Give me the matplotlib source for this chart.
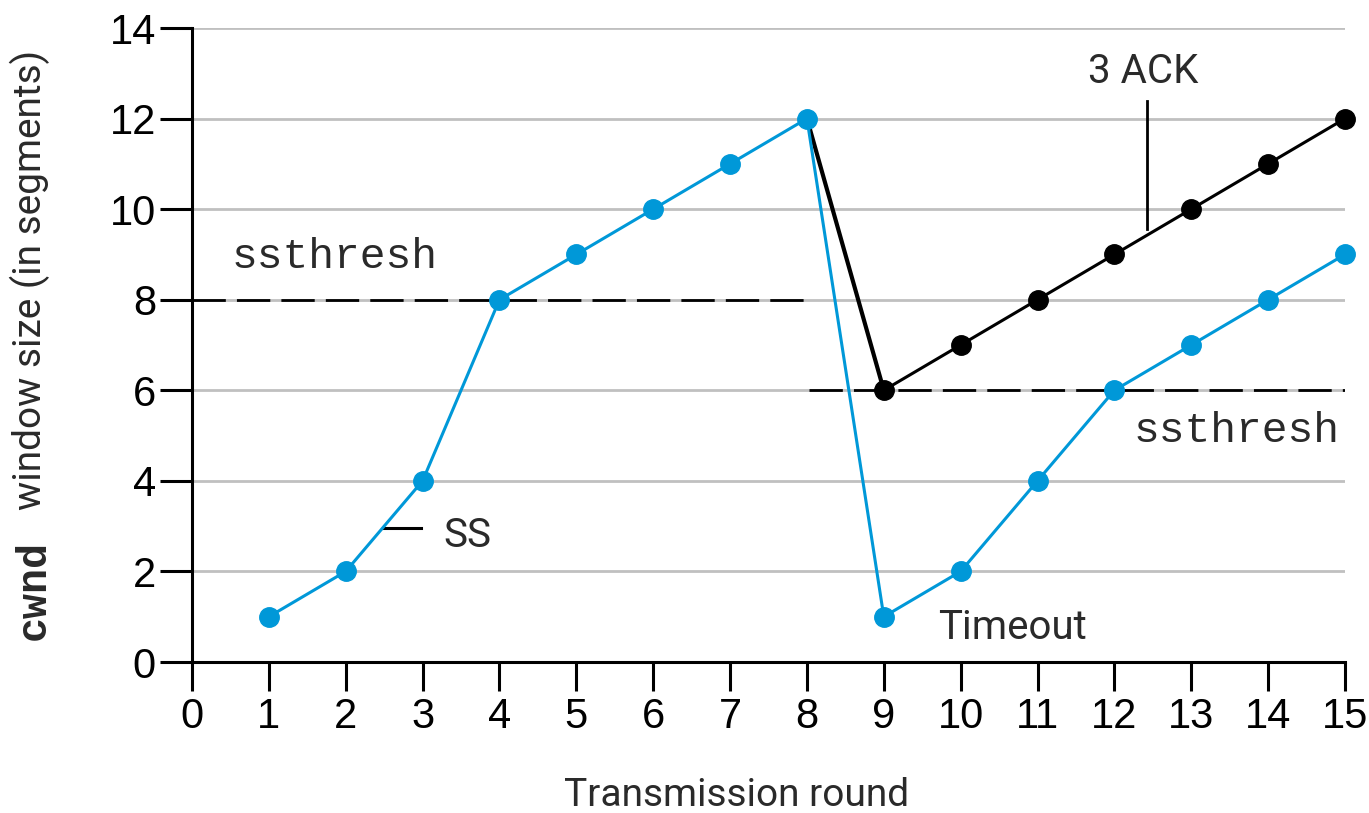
import matplotlib
matplotlib.use("Agg")
import matplotlib.pyplot as plt
from matplotlib import font_manager

# ---- data ----
rounds = [1, 2, 3, 4, 5, 6, 7, 8, 9, 10, 11, 12, 13, 14, 15]
cwnd_timeout = [1, 2, 4, 8, 9, 10, 11, 12, 1, 2, 4, 6, 7, 8, 9]
rounds_3ack = [8, 9, 10, 11, 12, 13, 14, 15]
cwnd_3ack = [12, 6, 7, 8, 9, 10, 11, 12]
ssthresh1_x = [0, 8.03]
ssthresh1_y = [8, 8]
ssthresh2_x = [8.03, 15]
ssthresh2_y = [6, 6]
xticks = list(range(0, 16))
yticks = list(range(0, 15, 2))

names = {f.name for f in font_manager.fontManager.ttflist}
def pick(*cands):
    for c in cands:
        if c in names:
            return c
    return "DejaVu Sans"
tick_font = pick("Liberation Sans Narrow", "Liberation Sans", "Roboto")
text_font = pick("Roboto", "Liberation Sans")
mono_font = pick("Liberation Mono", "DejaVu Sans Mono")

BLUE = "#0098D8"
GRAY = "#C0C0C0"
TXT = "#2a2a2a"

fig = plt.figure(figsize=(13.69, 8.13), dpi=100)
ax = fig.add_axes([192 / 1369, (813 - 662) / 813, 1153 / 1369, 634 / 813])

ax.set_xlim(0, 15)
ax.set_ylim(0, 14)

for y in yticks[1:]:
    ax.axhline(y, color=GRAY, lw=2.0, zorder=1)

# ssthresh dashed lines
ax.plot(ssthresh1_x, ssthresh1_y, color="black", lw=2.0, dashes=(12, 4), zorder=2)
ax.plot(ssthresh2_x, ssthresh2_y, color="black", lw=2.0, dashes=(12, 4), zorder=2)

# black (3 dup ACK) line
ax.plot(rounds_3ack[:2], cwnd_3ack[:2], color="black", lw=3.0, zorder=3, solid_capstyle="butt")
ax.plot(rounds_3ack[1:], cwnd_3ack[1:], color="black", lw=2.2, zorder=3,
        marker="o", markersize=14, markerfacecolor="black", markeredgecolor="black",
        clip_on=False)

# blue (timeout) line
ax.plot(rounds, cwnd_timeout, color=BLUE, lw=2.2, zorder=4,
        marker="o", markersize=14, markerfacecolor=BLUE, markeredgecolor=BLUE,
        clip_on=False)

# spines & ticks
for s in ["top", "right"]:
    ax.spines[s].set_visible(False)
for s in ["left", "bottom"]:
    ax.spines[s].set_linewidth(2.2)
    ax.spines[s].set_zorder(5)
ax.set_xticks(xticks)
ax.set_yticks(yticks)
ax.tick_params(axis="y", direction="out", length=23, width=2.2, pad=3,
               labelsize=30)
ax.tick_params(axis="x", direction="out", length=21, width=2.2, pad=4,
               labelsize=30)
for lab in ax.get_xticklabels() + ax.get_yticklabels():
    lab.set_fontfamily(tick_font)
    lab.set_color("black")

# annotations
ax.text(0.52, 8.7, "ssthresh", fontfamily=mono_font, fontsize=31, color=TXT,
        ha="left", va="baseline")
ax.text(14.93, 4.86, "ssthresh", fontfamily=mono_font, fontsize=31, color=TXT,
        ha="right", va="baseline")
ax.text(3.27, 2.8, "SS", fontfamily=text_font, fontsize=29, color=TXT,
        ha="left", va="center")
ax.plot([2.49, 2.98], [2.96, 2.96], color="black", lw=2.2, zorder=3)
ax.text(10.68, 0.77, "Timeout", fontfamily=text_font, fontsize=29, color=TXT,
        ha="center", va="center")
ax.text(12.38, 13.03, "3 ACK", fontfamily=text_font, fontsize=29, color=TXT,
        ha="center", va="center")
ax.plot([12.42, 12.42], [9.56, 12.38], color="black", lw=2.0, zorder=3)

# axis labels
fig.text(737 / 1369, 1 - 795 / 813, "Transmission round", fontfamily=text_font,
         fontsize=28, color=TXT, ha="center", va="center")
fig.text(34 / 1369, 1 - 590 / 813, "cwnd", fontfamily=mono_font, fontweight="bold",
         fontsize=30, color=TXT, ha="center", va="center", rotation=90)
fig.text(30 / 1369, 1 - 280 / 813, "window size (in segments)", fontfamily=text_font,
         fontsize=28, color=TXT, ha="center", va="center", rotation=90)

fig.savefig("out.png", dpi=100)
